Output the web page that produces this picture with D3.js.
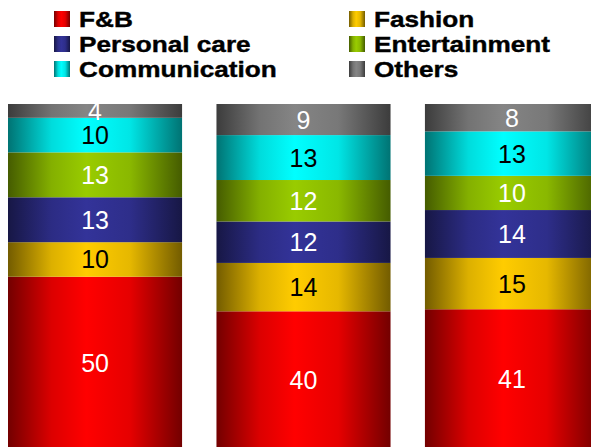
<!DOCTYPE html>
<html>
<head>
<meta charset="utf-8">
<script src="https://cdn.jsdelivr.net/npm/d3@7"></script>
<style>
  body { margin: 0; background: #fff; }
  svg { display: block; }
</style>
</head>
<body>
<div id="container"></div>
<script>
const WIDTH = 591;
const HEIGHT = 447;

// data, bottom segment first
var CATEGORIES = ["1", "2", "3"];
var SERIES = ["F&B", "Fashion", "Personal care", "Entertainment", "Communication", "Others"];
var FNB = [50, 40, 41];
var FASHION = [10, 14, 15];
var PERSONAL_CARE = [13, 12, 14];
var ENTERTAINMENT = [13, 12, 10];
var COMMUNICATION = [10, 13, 13];
var OTHERS = [4, 9, 8];

var COLORS = ["#ff0000", "#ffcc00", "#333399", "#99cc00", "#00ffff", "#858585"];
var LABEL_COLORS = ["#fff", "#000", "#fff", "#fff", "#000", "#fff"];

var VALUES = [FNB, FASHION, PERSONAL_CARE, ENTERTAINMENT, COMMUNICATION, OTHERS];

var rows = CATEGORIES.map(function (c, i) {
    var row = {category: c};
    SERIES.forEach(function (s, j) { row[s] = VALUES[j][i]; });
    return row;
});

var stacked = d3.stack().keys(SERIES).offset(d3.stackOffsetExpand)(rows);

var xScale = d3.scaleBand().domain(CATEGORIES).range([8, 599]).paddingInner(0.165);
var yScale = d3.scaleLinear().domain([0, 1]).range([449.5, 104]);

var svg = d3.select("#container").append("svg")
    .attr("width", WIDTH)
    .attr("height", HEIGHT);

// cylinder-like horizontal shading for each colour
var defs = svg.append("defs");
COLORS.forEach(function (col, i) {
    var c = d3.rgb(col);
    var dark = d3.rgb(c.r * 0.45, c.g * 0.45, c.b * 0.45);
    var mix = d3.interpolateRgb(dark, col);
    var grad = defs.append("linearGradient")
        .attr("id", "grad" + i)
        .attr("x1", "0%").attr("x2", "100%")
        .attr("y1", "0%").attr("y2", "0%");
    grad.append("stop").attr("offset", "0%").attr("stop-color", dark);
    grad.append("stop").attr("offset", "25%").attr("stop-color", mix(0.75));
    grad.append("stop").attr("offset", "45%").attr("stop-color", col);
    grad.append("stop").attr("offset", "70%").attr("stop-color", mix(0.82));
    grad.append("stop").attr("offset", "100%").attr("stop-color", dark);
});

var layers = svg.selectAll(".layer")
    .data(stacked)
    .enter().append("g")
    .attr("class", "layer")
    .attr("fill", function (d, i) { return "url(#grad" + i + ")"; });

layers.selectAll("rect")
    .data(function (d) { return d; })
    .enter().append("rect")
    .attr("x", function (d) { return xScale(d.data.category); })
    .attr("width", xScale.bandwidth())
    .attr("y", function (d) { return yScale(d[1]); })
    .attr("height", function (d) { return yScale(d[0]) - yScale(d[1]); });

layers.each(function (layer, i) {
    d3.select(this).selectAll("text")
        .data(layer)
        .enter().append("text")
        .attr("x", function (d) { return xScale(d.data.category) + xScale.bandwidth() / 2; })
        .attr("y", function (d) { return (yScale(d[0]) + yScale(d[1])) / 2; })
        .attr("dy", "0.36em")
        .attr("text-anchor", "middle")
        .attr("font-family", "'Liberation Sans', Arial, sans-serif")
        .attr("font-size", 25)
        .attr("fill", LABEL_COLORS[i])
        .text(function (d) { return d.data[layer.key]; });
});

// legend: two columns, row-major over the series
var legend = svg.append("g").attr("class", "legend");
SERIES.forEach(function (s, i) {
    var col = i % 2, row = Math.floor(i / 2);
    var x = col === 0 ? 54 : 349;
    var y = 11 + row * 25;
    legend.append("rect")
        .attr("x", x).attr("y", y)
        .attr("width", 16).attr("height", 16)
        .attr("fill", "url(#grad" + i + ")");
    legend.append("text")
        .attr("transform", "translate(" + (x + 25) + "," + (y + 16) + ") scale(1.19,1)")
        .attr("font-family", "'Liberation Sans', Arial, sans-serif")
        .attr("font-weight", "bold")
        .attr("font-size", 22)
        .attr("fill", "#000")
        .attr("stroke", "#000")
        .attr("stroke-width", 0.4)
        .text(s);
});
</script>
</body>
</html>
